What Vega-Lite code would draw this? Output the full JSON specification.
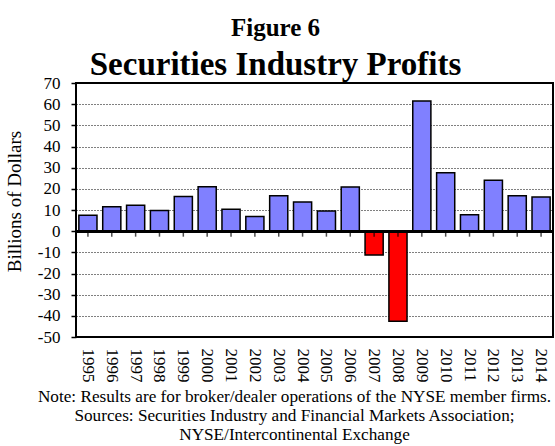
{
  "$schema": "https://vega.github.io/schema/vega-lite/v6.json",
  "width": 477,
  "height": 254,
  "autosize": {"type": "none"},
  "padding": {"left": 76, "top": 83, "right": 2, "bottom": 109},
  "background": "white",
  "config": {
    "font": "Liberation Serif",
    "view": {"stroke": "black", "strokeWidth": 2},
    "axisY": {
      "title": "Billions of Dollars",
      "titleFont": "Liberation Serif",
      "titleFontSize": 19,
      "titleFontWeight": "normal",
      "titleColor": "black",
      "titleAngle": 270,
      "titleAlign": "center",
      "titleBaseline": "middle",
      "titleX": -62,
      "titleY": 118,
      "labelOverlap": false,
      "labelFlush": false,
      "domain": false,
      "ticks": true,
      "tickSize": 5,
      "tickColor": "black",
      "tickWidth": 1.5,
      "labelPadding": 11,
      "labelFont": "Liberation Serif",
      "labelFontSize": 17,
      "labelColor": "black",
      "grid": true,
      "gridColor": "black",
      "gridOpacity": 1
    }
  },
  "title": {
    "text": "Figure 6",
    "subtitle": "Securities Industry Profits",
    "anchor": "middle",
    "frame": "group",
    "dx": -39,
    "offset": -8,
    "font": "Liberation Serif",
    "fontSize": 25,
    "fontWeight": "bold",
    "color": "black",
    "subtitleFont": "Liberation Serif",
    "subtitleFontSize": 33,
    "subtitleFontWeight": "bold",
    "subtitleColor": "black",
    "subtitlePadding": 8
  },
  "data": {
    "values": [
      {"year": "1995", "profit": 7.5},
      {"year": "1996", "profit": 11.5},
      {"year": "1997", "profit": 12.3},
      {"year": "1998", "profit": 9.8},
      {"year": "1999", "profit": 16.4},
      {"year": "2000", "profit": 21.0},
      {"year": "2001", "profit": 10.4},
      {"year": "2002", "profit": 6.9},
      {"year": "2003", "profit": 16.7},
      {"year": "2004", "profit": 13.8},
      {"year": "2005", "profit": 9.5},
      {"year": "2006", "profit": 20.9},
      {"year": "2007", "profit": -11.3},
      {"year": "2008", "profit": -42.6},
      {"year": "2009", "profit": 61.5},
      {"year": "2010", "profit": 27.6},
      {"year": "2011", "profit": 7.8},
      {"year": "2012", "profit": 24.0},
      {"year": "2013", "profit": 16.7},
      {"year": "2014", "profit": 16.1}
    ]
  },
  "encoding": {
    "x": {
      "field": "year",
      "type": "ordinal",
      "scale": {"paddingInner": 0.24, "paddingOuter": 0.12},
      "axis": {
        "title": [
          "Note: Results are for broker/dealer operations of the NYSE member firms.",
          "Sources: Securities Industry and Financial Markets Association;",
          "NYSE/Intercontinental Exchange"
        ],
        "titleFont": "Liberation Serif",
        "titleFontSize": 17.2,
        "titleFontWeight": "normal",
        "titleColor": "black",
        "titleLineHeight": 19,
        "titleAlign": "center",
        "titleBaseline": "top",
        "titleX": 218,
        "titleY": 50,
        "domain": false,
        "ticks": false,
        "labelAngle": 90,
        "labelAlign": "left",
        "labelBaseline": "middle",
        "labelPadding": 11,
        "labelOverlap": false,
        "labelFont": "Liberation Serif",
        "labelFontSize": 17,
        "labelColor": "black"
      }
    }
  },
  "layer": [
    {
      "mark": {"type": "bar", "stroke": "black", "strokeWidth": 1.5},
      "encoding": {
        "y": {
          "field": "profit",
          "type": "quantitative",
          "title": "Billions of Dollars",
          "scale": {"domain": [-50, 70], "nice": false, "zero": false},
          "axis": {
            "values": [-50, -40, -30, -20, -10, 0, 10, 20, 30, 40, 50, 60, 70],
            "labelExpr": "datum.value + ''",
            "gridDash": {"condition": {"test": "datum.value === 0", "value": []}, "value": [1, 2]},
            "gridWidth": {"condition": {"test": "datum.value === 0", "value": 2}, "value": 1}
          }
        },
        "color": {
          "condition": {"test": "datum.profit < 0", "value": "#FF0000"},
          "value": "#8080FF"
        }
      }
    },
    {
      "mark": {"type": "rule", "color": "black", "strokeWidth": 2},
      "encoding": {
        "y": {
          "datum": 0,
          "type": "quantitative",
          "title": "Billions of Dollars",
          "scale": {"domain": [-50, 70], "nice": false, "zero": false},
          "axis": {
            "values": [-50, -40, -30, -20, -10, 0, 10, 20, 30, 40, 50, 60, 70],
            "labelExpr": "datum.value + ''",
            "gridDash": {"condition": {"test": "datum.value === 0", "value": []}, "value": [1, 2]},
            "gridWidth": {"condition": {"test": "datum.value === 0", "value": 2}, "value": 1}
          }
        },
        "x": {}
      }
    },
    {
      "mark": {"type": "tick", "orient": "vertical", "color": "black", "size": 5, "thickness": 1.5, "yOffset": 3},
      "encoding": {
        "y": {
          "datum": 0,
          "type": "quantitative",
          "title": "Billions of Dollars",
          "scale": {"domain": [-50, 70], "nice": false, "zero": false},
          "axis": {
            "values": [-50, -40, -30, -20, -10, 0, 10, 20, 30, 40, 50, 60, 70],
            "labelExpr": "datum.value + ''",
            "gridDash": {"condition": {"test": "datum.value === 0", "value": []}, "value": [1, 2]},
            "gridWidth": {"condition": {"test": "datum.value === 0", "value": 2}, "value": 1}
          }
        }
      }
    }
  ]
}
